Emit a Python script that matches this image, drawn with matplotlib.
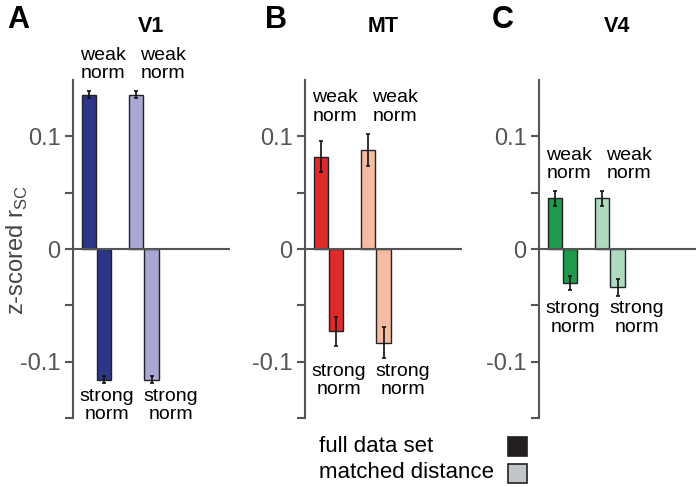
import numpy as np
import matplotlib
matplotlib.use("Agg")
import matplotlib.pyplot as plt
from matplotlib.patches import Rectangle

plt.rcParams['font.family'] = ['Liberation Sans', 'DejaVu Sans']

# data: per area, [full weak, full strong, matched weak, matched strong]
areas = ['V1', 'MT', 'V4']
panel_letters = ['A', 'B', 'C']
values = {
    'V1': [0.137, -0.116, 0.137, -0.116],
    'MT': [0.082, -0.073, 0.088, -0.083],
    'V4': [0.045, -0.030, 0.045, -0.034],
}
errors = {
    'V1': [0.003, 0.003, 0.003, 0.003],
    'MT': [0.014, 0.013, 0.0145, 0.014],
    'V4': [0.0065, 0.006, 0.0065, 0.0075],
}
colors = {
    'V1': ['#2d3588', '#2d3588', '#aaa8d2', '#aaa8d2'],
    'MT': ['#e0292b', '#e0292b', '#f5bba3', '#f5bba3'],
    'V4': ['#1f9a4b', '#1f9a4b', '#aedbbf', '#aedbbf'],
}
legend_labels = ['full data set', 'matched distance']
legend_colors = ['#231f20', '#c3c6c8']

bar_x = np.array([1, 2, 4, 5])
weak_label_x = [1.9, 5.75]
strong_label_x = [2.15, 6.25]

fig = plt.figure(figsize=(6.96, 4.87), dpi=100)

lefts = [73, 305, 539]
letter_x = [7, 265, 492]
axis_gray = '#555555'

for i, area in enumerate(areas):
    ax = fig.add_axes([lefts[i] / 696, 1 - 418 / 487, 157 / 696, 338 / 487])
    vals = np.array(values[area])
    errs = np.array(errors[area])
    ax.bar(bar_x, vals, width=0.9, color=colors[area], edgecolor='#222222',
           linewidth=1.0, zorder=2)
    ax.errorbar(bar_x, vals, yerr=errs, fmt='none', ecolor='#111111',
                elinewidth=1.2, capsize=1.5, capthick=1.2, zorder=3)
    ax.axhline(0, color=axis_gray, lw=1.5, zorder=4)
    ax.set_xlim(0, 10)
    ax.set_ylim(-0.15, 0.15)
    for s in ['top', 'right', 'bottom']:
        ax.spines[s].set_visible(False)
    ax.spines['left'].set_color(axis_gray)
    ax.spines['left'].set_linewidth(1.5)
    ax.set_xticks([])
    ax.set_yticks([-0.15, -0.1, -0.05, 0, 0.05, 0.1])
    ax.set_yticklabels(['', '-0.1', '', '0', '', '0.1'])
    ax.tick_params(axis='y', length=6, width=1.5, color=axis_gray,
                   labelcolor=axis_gray, labelsize=17, pad=3)

    top = max(vals + errs) + 0.008
    bottom = min(vals - errs) - 0.004
    for x in weak_label_x:
        ax.text(x, top, 'weak\nnorm', ha='center', va='bottom', fontsize=14,
                linespacing=1.1, clip_on=False)
    for x in strong_label_x:
        ax.text(x, bottom, 'strong\nnorm', ha='center', va='top', fontsize=14,
                linespacing=1.1, clip_on=False)

    ax.text(0.5, 1 + 54 / 338, area, transform=ax.transAxes, ha='center',
            va='center', fontsize=15.5, fontweight='bold')
    fig.text(letter_x[i] / 696, 1 - 20 / 487, panel_letters[i], fontsize=22,
             fontweight='bold', va='center', ha='left')

fig.text(17 / 696, 1 - 250 / 487, r'z-scored r$_\mathregular{SC}$', rotation=90,
         ha='center', va='center', fontsize=17, color='#444444')

# legend
for j, (lab, col) in enumerate(zip(legend_labels, legend_colors)):
    yc = 1 - (446 + 27 * j) / 487
    fig.text(319 / 696, yc, lab, ha='left', va='center', fontsize=16)
    fig.patches.append(Rectangle((508 / 696, yc - 9.5 / 487), 19 / 696, 19 / 487,
                                 transform=fig.transFigure, facecolor=col,
                                 edgecolor='#231f20', linewidth=1.2))

fig.savefig('out.png', dpi=100)
